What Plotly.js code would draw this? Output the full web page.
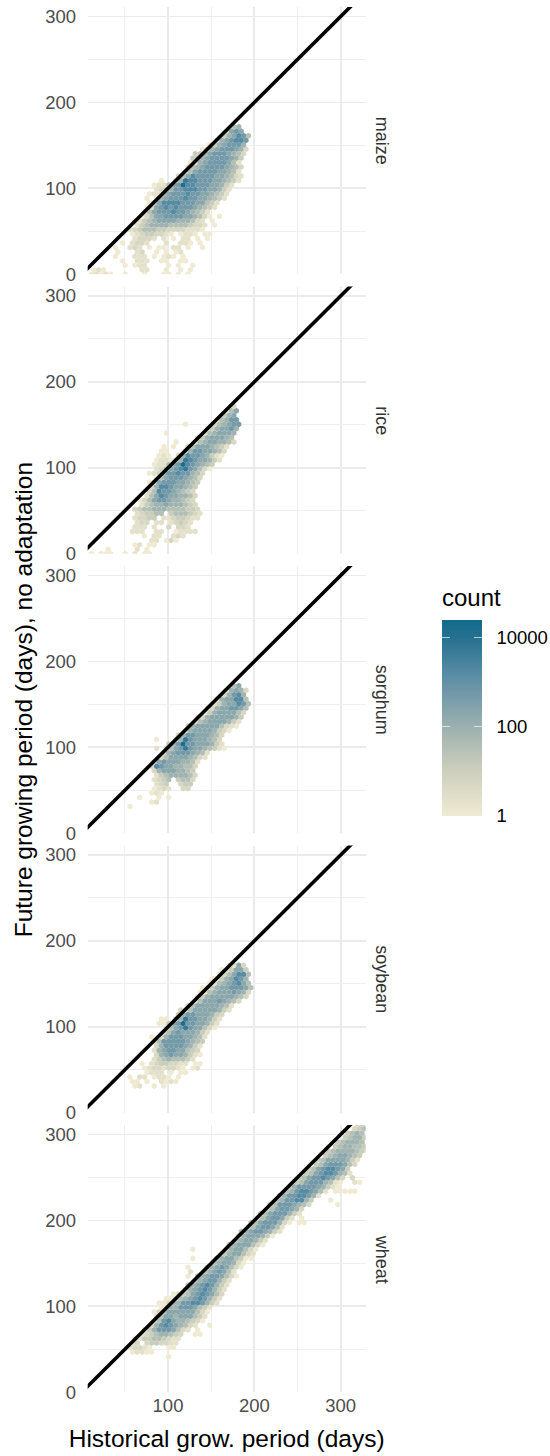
<!DOCTYPE html>
<html><head><meta charset="utf-8">
<script src="https://cdn.plot.ly/plotly-3.0.1.min.js"></script>
<style>html,body{margin:0;padding:0;background:#fff}</style></head>
<body><div id="chart" style="width:550px;height:1456px"></div>
<script>
// Hex-bin cells. Array index = hex row (bottom up),
// "startColumn:levels" = shade level per column (1 = one count ... b = deepest, . = empty).
const maizeRows = [
"2:12121..1...1...11.1.1","2:121.......22...1..1.1","9:1.122....1.1..1","8:1..222..11..11","7:1...222.1.121.1",
"7:1...23..1.1.12","7:1..232.1.11.22.1..1","8:1.2332...2..221.1","11:23332.2.1.22.1.1","10:123443321.1221.11",
"10:2345554433332221","11:245666655554332.1","11:124567777666532.1","12:135778888776531.1","13:25788898876542",
"13:137898988876542","14:147999988877542","13:1.267888988776542","14:12267888988776542","15:2356889998877642",
"15:122578b9988877642","16:1..46a99888776542","20:35798888776532","21:357888877652","22:256788887653",
"22:12678888752","23:45678888764","23:44678887653","25:1467888763","26:14678886",
"28:3678998","29:467985","30:4787","31:56"];
const riceRows = [
"2:1.111..1.2.11","5:1.....2.1","11:12.11","14:22.131","13:1.22..232",
"10:222..22..12222","11:222.2..3.332","11:233.22.23432","11:23344.22344322","11:234455.4555432",
"11:34556665555443","12:245667666543","12:135788766543","13:25798776653","14:3598876543",
"14:3699877654","14:14788877654","15:1578887653","14:123688988653","15:235789a87531",
"15:122578b987654","15:122146a9877642","16:121.3698876421","16:11...468877653","17:1.1..357776542",
"19:1...256776653","24:24677765","17:1.......2567776","26:2467786","21:1.....356788",
"28:25688","29:467","30:257","31:3"];
const sorghumRows = [
"","","","","","",
"10:1","14:12","12:1...1.1","14:121",
"15:1232..33","15:234..344","15:2345.4553","15:245666653","15:367776654",
"14:3987766553","15:3787776652","16:3577776532","17:3678887652","15:2.3578a87765421",
"18:468b88777642","15:1...36a8777653","20:3688777653","21:2677776431","22:36777775321",
"23:2567777642","24:1367777764","25:146777753","26:136778875","27:24677985",
"28:2677995","29:36896","30:26763","31:57"];
const soybeanRows = [
"","","","","","",
"11:12..1.1","10:11.1..2121","10:1.22.1221.1","13:1222.1.11",
"13:123323321.12","12:1.23443322.11","15:245655542","15:3678776421","15:2678877543",
"15:3688887642","15:25888887654","14:1.3688877652","17:3578777642","17:2578a877531",
"16:11478b8877642","16:11.46a8877642","20:4688777643","20:33577777642","22:2577777652",
"23:2577787653","24:14677777653","24:12567778763","25:11467788875","26:125678975",
"27:12467986","28:1357995","29:124774","30:1273"];
const wheatRows = [
"","","","","","","","",
"18:1","10:12211","10:23321...11","10:23.3443322","11:2244554322","12:234566543..11","13:2468887532.1",
"14:3689876532..1","15:35897665431","15:35776777542","15:135777777531","16:11668887542",
"16:1136688998642","17:113567898642","19:12457898753","21:467898642","22:467898642",
"23:56788642","22:1.567887531","22:2..5678752","22:1...56787531","27:5677631",
"23:1....56775411","29:4677532","23:1......4677531","30:46777531","32:5677642",
"32:46777641","33:567887642","34:45788752","35:457888631.11","36:45788742.1",
"37:457888642","38:45788763","39:458887653.....1","40:56889964...1","41:568899862",
"42:568998752.11111","43:46888876421","44:4578886521..21","45:4578898753.3","46:4578998652",
"47:457899874","48:457888753","49:457777642","50:45677654","51:456666543",
"52:4566554","53:456665","54:45664","55:4565","56:345","57:34"];

const crops = ["maize","rice","sorghum","soybean","wheat"];
const cropRows = [maizeRows, riceRows, sorghumRows, soybeanRows, wheatRows];
const identityLine = [0, 350];
const legendTickValues = [0, 2, 4];
const legendTickLabels = ["\u00a0\u00a01", "\u00a0\u00a0100", "\u00a0\u00a010000"];
const levelLogCounts = [0, 0.35, 0.7, 1.1, 1.5, 1.9, 2.3, 2.7, 3.2, 3.7, 4.2];
const xTitle = "Historical grow. period (days)";
const yTitle = "Future growing period (days), no adaptation";
const legendTitle = "count";

const W = 550, H = 1456, hexDx = 5.6, hexDy = 5.2;
const colorMax = 4.385;
const scale = [[0,"#F0EAD3"],[0.25,"#C9CDBB"],[0.456,"#9BB0AF"],[0.7,"#5F8FA6"],[0.912,"#26708F"],[1,"#116A8C"]];
const LEVELS = "123456789ab";

function decode(rows){
  const xs=[],ys=[],cs=[];
  rows.forEach((r,i)=>{
    if(!r) return;
    const [s,d]=r.split(":");
    [...d].forEach((ch,k)=>{
      if(ch===".") return;
      xs.push((+s+k+(i%2?0.5:0))*hexDx);
      ys.push(i*hexDy);
      cs.push(levelLogCounts[LEVELS.indexOf(ch)]);
    });
  });
  return {xs,ys,cs};
}
const panelTops=[7,286.5,566,845.5,1125], panelH=267.3;
const major={showgrid:true,gridcolor:"#EBEBEB",gridwidth:1.8,zeroline:false,showline:false,
  minor:{dtick:50,showgrid:true,gridcolor:"#EFEFEF",gridwidth:1,ticks:""}};
const layout={width:W,height:H,margin:{l:0,r:0,t:0,b:0,autoexpand:false},paper_bgcolor:"#fff",plot_bgcolor:"#fff",showlegend:false,
  hovermode:false,font:{family:"Liberation Sans, Arial, sans-serif"},annotations:[
  {xref:"paper",yref:"paper",x:440/W,y:1-597/H,text:legendTitle,showarrow:false,xanchor:"left",yanchor:"middle",font:{size:24,color:"#000"}}]};
const traces=[];
crops.forEach((name,p)=>{
  const sx=p?String(p+1):"", d=decode(cropRows[p]);
  const top=panelTops[p];
  const marker={symbol:"hexagon",size:5.9,color:d.cs,cmin:0,cmax:colorMax,colorscale:scale,line:{width:0},showscale:false};
  if(p===0){marker.showscale=true;marker.colorbar={xref:"container",yref:"container",x:442/W,xanchor:"left",
    y:(H-816)/H,yanchor:"bottom",lenmode:"fraction",len:196/H,thickness:40,thicknessmode:"pixels",xpad:0,ypad:0,outlinewidth:0,
    tickmode:"array",tickvals:legendTickValues,ticktext:legendTickLabels,ticks:"inside",ticklen:8,tickwidth:1,tickcolor:"rgba(255,255,255,0.65)",
    tickfont:{size:18.5,color:"#000"}};}
  if(p===1){marker.showscale=true;marker.colorbar={xref:"container",yref:"container",x:442/W,xanchor:"left",
    y:(H-816)/H,yanchor:"bottom",lenmode:"fraction",len:196/H,thickness:8,thicknessmode:"pixels",xpad:0,ypad:0,outlinewidth:0,
    tickmode:"array",tickvals:legendTickValues,ticktext:["","",""],ticks:"inside",ticklen:8,tickwidth:1,tickcolor:"rgba(255,255,255,0.65)",showticklabels:false};}
  traces.push({type:"scatter",mode:"markers",x:d.xs,y:d.ys,xaxis:"x"+sx,yaxis:"y"+sx,marker});
  traces.push({type:"scatter",mode:"lines",x:identityLine,y:identityLine,xaxis:"x"+sx,yaxis:"y"+sx,line:{color:"#000",width:3.6}});
  layout["xaxis"+sx]=Object.assign({},major,{domain:[87.7/W,365.7/W],range:[7,329],anchor:"y"+sx,tickmode:"linear",tick0:0,dtick:100,ticks:"",
    showticklabels:p===4,tickfont:{size:18.5,color:"#4D4D4D"}});
  layout["yaxis"+sx]=Object.assign({},major,{domain:[1-(top+panelH)/H,1-top/H],range:[0,311],anchor:"x"+sx,tickmode:"linear",tick0:0,dtick:100,
    ticks:"outside",ticklen:7,tickcolor:"rgba(0,0,0,0)",tickfont:{size:18.5,color:"#4D4D4D"}});
  layout.annotations.push({xref:"paper",yref:"paper",x:382/W,y:1-(top+panelH/2)/H,text:name,textangle:90,showarrow:false,
    font:{size:18,color:"#333"},xanchor:"center",yanchor:"middle"});
});
layout.xaxis5.title={text:xTitle,font:{size:24.5,color:"#000"},standoff:15};
layout.yaxis3.title={text:yTitle,font:{size:24.5,color:"#000"},standoff:5};
Plotly.newPlot("chart",traces,layout,{displayModeBar:false,staticPlot:true});
</script></body></html>
